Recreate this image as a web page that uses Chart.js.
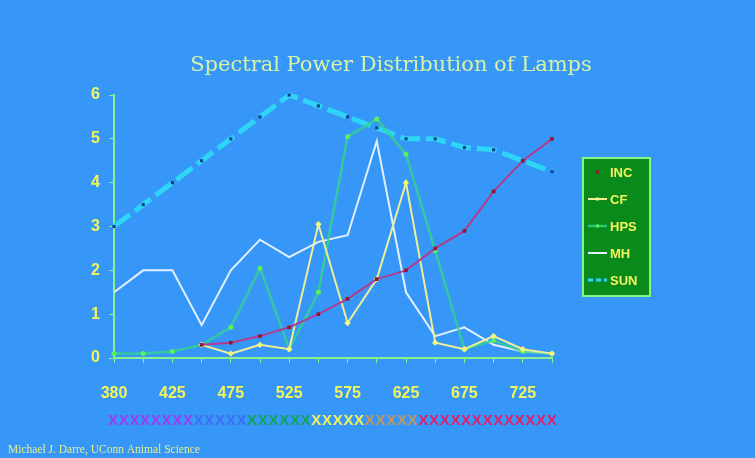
<!DOCTYPE html>
<html>
<head>
<meta charset="utf-8">
<script src="https://cdn.jsdelivr.net/npm/chart.js@4/dist/chart.umd.min.js"></script>
<style>
  html, body { margin: 0; padding: 0; background: #3797f8; }
  canvas { display: block; }
</style>
</head>
<body>
<canvas id="spdChart" width="755" height="458"></canvas>
<script>
// Wavelengths (nm) along the x axis
const wavelengths = ['380', '400', '425', '450', '475', '500', '525', '550', '575', '600', '625', '650', '675', '700', '725', '750'];

// Relative power for each lamp type
const incValues = [null, null, null, 0.3, 0.35, 0.5, 0.7, 1.0, 1.35, 1.8, 2.0, 2.5, 2.9, 3.8, 4.5, 5.0];
const cfValues  = [null, null, null, 0.3, 0.1, 0.3, 0.2, 3.05, 0.8, 1.8, 4.0, 0.35, 0.2, 0.5, 0.2, 0.1];
const hpsValues = [0.1, 0.1, 0.15, 0.3, 0.7, 2.05, 0.2, 1.5, 5.05, 5.45, 4.65, 2.45, 0.2, 0.4, 0.15, 0.1];
const mhValues  = [1.5, 2.0, 2.0, 0.75, 2.0, 2.7, 2.3, 2.65, 2.8, 4.95, 1.5, 0.5, 0.7, 0.3, 0.15, 0.1];
const sunValues = [3.0, 3.5, 4.0, 4.5, 5.0, 5.5, 6.0, 5.75, 5.5, 5.25, 5.0, 5.0, 4.8, 4.75, 4.5, 4.25];

const yTickValues = [0, 1, 2, 3, 4, 5, 6];
const lampNames = ['INC', 'CF', 'HPS', 'MH', 'SUN'];

// coloured X strip under the axis (visible spectrum)
const bandColors = ['#9a3df0', '#3f6df5', '#10a45a', '#f2f25a', '#c8955a', '#e0206a'];
const bandCounts = [8, 5, 6, 5, 5, 13];

const titleText = 'Spectral Power Distribution of Lamps';
const creditText = 'Michael J. Darre, UConn Animal Science';

const BG = '#3797f8';
const AXIS = '#8cf08c';
const TICK_TEXT = '#f4f45c';

// Background, title, legend box, spectrum strip, credit
const decorPlugin = {
    id: 'decor',
    beforeDraw(chart) {
        const ctx = chart.ctx;
        ctx.save();
        ctx.fillStyle = BG;
        ctx.fillRect(0, 0, chart.width, chart.height);
        ctx.restore();
    },
    afterDraw(chart) {
        const ctx = chart.ctx;
        const area = chart.chartArea;
        ctx.save();

        // title
        ctx.fillStyle = '#d6f2a6';
        ctx.font = '21px "DejaVu Serif"';
        ctx.textAlign = 'center';
        ctx.textBaseline = 'middle';
        ctx.fillText(titleText, 391, 66);

        // legend
        const lx = 583, ly = 158, lw = 67, lh = 138;
        ctx.fillStyle = '#0b8a1c';
        ctx.fillRect(lx, ly, lw, lh);
        ctx.strokeStyle = '#86f586';
        ctx.lineWidth = 2;
        ctx.strokeRect(lx, ly, lw, lh);
        ctx.font = 'bold 13px "Liberation Sans"';
        ctx.textAlign = 'left';
        chart.data.datasets.forEach((ds, i) => {
            const y = 172 + i * 27;
            if (i > 0) {
                ctx.strokeStyle = ds.borderColor;
                ctx.lineWidth = Math.min(ds.borderWidth, 3);
                ctx.setLineDash(ds.borderDash ? [5, 3] : []);
                ctx.beginPath();
                ctx.moveTo(588, y);
                ctx.lineTo(607, y);
                ctx.stroke();
                ctx.setLineDash([]);
            }
            if (ds.pointRadius > 0 && i < 3) {
                ctx.fillStyle = ds.pointBackgroundColor;
                ctx.fillRect(596, y - 1.5, 3, 3);
            }
            ctx.fillStyle = TICK_TEXT;
            ctx.fillText(ds.label, 610, y + 1);
        });

        // spectrum strip of X's
        ctx.font = 'bold 15px "Liberation Sans"';
        ctx.textBaseline = 'middle';
        let x = area.left - 6;
        bandColors.forEach((c, i) => {
            ctx.fillStyle = c;
            for (let k = 0; k < bandCounts[i]; k++) {
                ctx.fillText('X', x, 421);
                x += 10.7;
            }
        });

        // credit
        ctx.fillStyle = '#e6ee8a';
        ctx.font = '11.5px "Liberation Serif"';
        ctx.fillText(creditText, 8, 450);
        ctx.restore();
    }
};

const spdChart = new Chart(document.getElementById('spdChart'), {
    type: 'line',
    data: {
        labels: wavelengths,
        datasets: [{
            label: lampNames[0],
            data: incValues,
            borderColor: '#b23c8c', // magenta line
            borderWidth: 2,
            pointStyle: 'rect',
            pointRadius: 2.6,
            pointBorderWidth: 0,
            pointBackgroundColor: '#8e1836'
        }, {
            label: lampNames[1],
            data: cfValues,
            borderColor: '#eef098', // pale yellow
            borderWidth: 2,
            pointStyle: 'rectRot',
            pointRadius: 3.2,
            pointBorderWidth: 0,
            pointBackgroundColor: '#f6f67a'
        }, {
            label: lampNames[2],
            data: hpsValues,
            borderColor: 'rgba(50, 212, 140, 0.8)', // green
            borderWidth: 2.5,
            pointStyle: 'circle',
            pointRadius: 2.5,
            pointBorderWidth: 0,
            pointBackgroundColor: '#5cf05c'
        }, {
            label: lampNames[3],
            data: mhValues,
            borderColor: '#e2f0ff', // white
            borderWidth: 2,
            pointRadius: 0
        }, {
            label: lampNames[4],
            data: sunValues,
            borderColor: '#2dd6f6', // cyan dashed
            borderWidth: 5,
            borderDash: [20, 6],
            clip: 8,
            pointStyle: 'rect',
            pointRadius: 2.2,
            pointBorderWidth: 0,
            pointBackgroundColor: '#123f8a'
        }]
    },
    options: {
        responsive: false,
        animation: false,
        devicePixelRatio: 1,
        layout: {
            padding: { left: 70, right: 203, top: 95, bottom: 40 }
        },
        elements: {
            line: { tension: 0, fill: false }
        },
        plugins: {
            legend: { display: false },
            title: { display: false },
            tooltip: { enabled: false }
        },
        scales: {
            x: {
                offset: false,
                afterFit: (scale) => { scale.height = 60; },
                border: { color: AXIS, width: 2 },
                grid: {
                    drawOnChartArea: false,
                    color: AXIS,
                    tickLength: 5
                },
                ticks: {
                    autoSkip: false,
                    maxRotation: 0,
                    padding: 21,
                    color: TICK_TEXT,
                    font: { size: 16, weight: 'bold', family: 'Liberation Sans' },
                    callback: (v, i) => (i % 2 === 0 ? wavelengths[i] : '')
                }
            },
            y: {
                min: yTickValues[0],
                max: yTickValues[yTickValues.length - 1],
                afterFit: (scale) => { scale.width = 44; },
                afterBuildTicks: (scale) => { scale.ticks = yTickValues.map(v => ({ value: v })); },
                border: { color: AXIS, width: 2 },
                grid: {
                    drawOnChartArea: false,
                    color: AXIS,
                    tickLength: 5
                },
                ticks: {
                    padding: 9,
                    color: TICK_TEXT,
                    font: { size: 16, weight: 'bold', family: 'Liberation Sans' }
                }
            }
        }
    },
    plugins: [decorPlugin]
});
</script>
</body>
</html>
